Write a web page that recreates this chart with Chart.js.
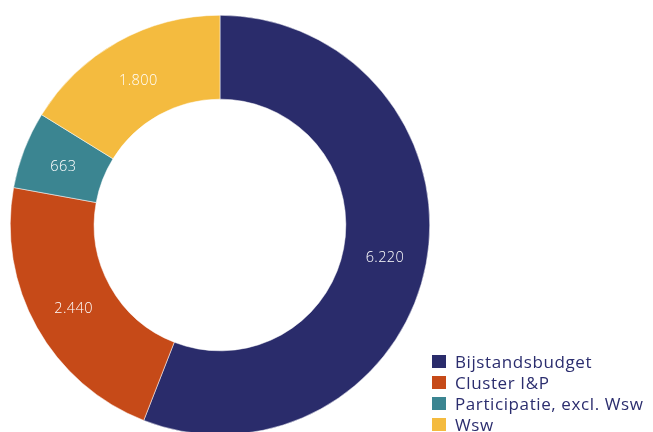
<!DOCTYPE html>
<html>
<head>
<meta charset="utf-8">
<script src="https://cdn.jsdelivr.net/npm/chart.js@4/dist/chart.umd.min.js"></script>
<style>
  html, body { margin: 0; padding: 0; background: #fff; overflow: hidden; }
  body { width: 653px; height: 432px; position: relative; font-family: "Open Sans", sans-serif; }
  #wrap { position: absolute; left: 0; top: 0; width: 440px; height: 450px; }
  #legend { position: absolute; left: 432px; top: 351px; color: #2b2d6e; font-size: 17px; letter-spacing: 0.6px; }
  .item { display: flex; align-items: center; height: 21px; white-space: nowrap; }
  .box { width: 14px; height: 13px; margin-right: 9px; }
</style>
</head>
<body>
<div id="wrap"><canvas id="donut"></canvas></div>
<div id="legend"></div>
<script>
const labels = ["Bijstandsbudget", "Cluster I&P", "Participatie, excl. Wsw", "Wsw"];
const amounts = [6220, 2440, 663, 1800];
const valueLabels = ["6.220", "2.440", "663", "1.800"];
const colors = ["#2a2c6b", "#c64a18", "#3b8591", "#f4bb3f"];

// draws the value in the middle of each slice
const sliceLabels = {
  id: "sliceLabels",
  afterDatasetsDraw(chart) {
    const ctx = chart.ctx;
    const meta = chart.getDatasetMeta(0);
    ctx.save();
    ctx.fillStyle = "#ffffff";
    ctx.font = "300 14.5px 'Open Sans', sans-serif";
    ctx.letterSpacing = "0.4px";
    ctx.textAlign = "center";
    ctx.textBaseline = "middle";
    meta.data.forEach((arc, i) => {
      const p = arc.tooltipPosition();
      ctx.fillText(valueLabels[i], p.x, p.y + 2);
    });
    ctx.restore();
  }
};

const chart = new Chart(document.getElementById("donut"), {
  type: "doughnut",
  data: {
    labels: labels,
    datasets: [{
      data: amounts,
      backgroundColor: colors,
      borderColor: "#ffffff",
      borderWidth: 0.5
    }]
  },
  options: {
    responsive: true,
    maintainAspectRatio: false,
    animation: false,
    cutout: "60%",
    layout: { padding: { top: 15, bottom: 15, left: 10, right: 10 } },
    plugins: {
      legend: { display: false },
      tooltip: { enabled: false }
    }
  },
  plugins: [sliceLabels]
});

const legend = document.getElementById("legend");
for (let i = 0; i < labels.length; i++) {
  const row = document.createElement("div");
  row.className = "item";
  const box = document.createElement("span");
  box.className = "box";
  box.style.background = colors[i];
  const txt = document.createElement("span");
  txt.textContent = labels[i];
  row.appendChild(box);
  row.appendChild(txt);
  legend.appendChild(row);
}
</script>
</body>
</html>
